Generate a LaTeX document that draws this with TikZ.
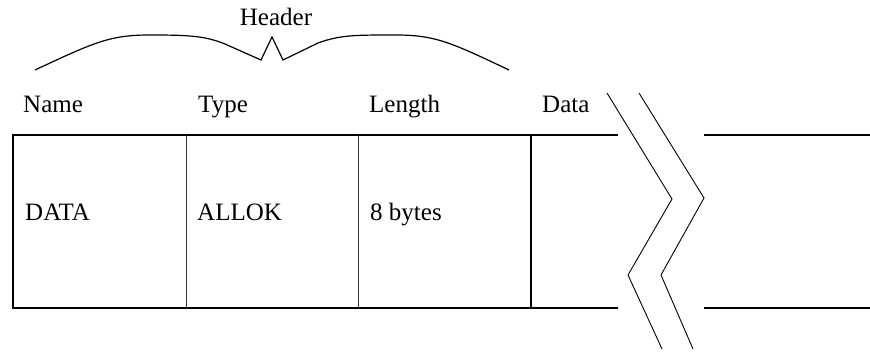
\documentclass[tikz,border=0pt]{standalone}
\usepackage{fontspec}
\setmainfont{Liberation Serif}
\tikzset{
  lbl/.style={anchor=base west, inner sep=0pt, font=\fontsize{25}{30}\selectfont},
  boxline/.style={line width=1.8pt},
  cellline/.style={line width=1pt, black!80},
  breakline/.style={line width=0.9pt},
  bracecurve/.style={line width=1.2pt, line join=miter},
}
\begin{document}
\begin{tikzpicture}[x=1pt, y=-1pt]
  \useasboundingbox (0,0) rectangle (870,352);

  % column headings
  \node[lbl] (hname) at (23,113) {Name};
  \node[lbl] (htype) at (198,113) {Type};
  \node[lbl] (hlen)  at (369,113) {Length};
  \node[lbl] (hdata) at (542,113) {Data};

  % header brace and caption
  \node[lbl, anchor=base] (hdr) at (276,26) {Header};
  \draw[bracecurve] (35,70) .. controls (95,42) and (110,35) .. (150,35)
      .. controls (190,35) and (205,36) .. (225,44) -- (261,60) -- (272,37)
      -- (283,60) -- (318,43) .. controls (340,35) and (355,35) .. (395,35)
      .. controls (435,35) and (450,42) .. (509,70);

  % record outline
  \coordinate (tl) at (13,135);
  \coordinate (bl) at (13,308);
  \coordinate (tr) at (618,135);
  \coordinate (br) at (618,308);
  \draw[boxline] (tr) -- (tl) -- (bl) -- (br);
  \draw[boxline] (704,135) -- (870,135);
  \draw[boxline] (704,308) -- (870,308);

  % field separators
  \draw[cellline] (186,135) -- (186,308);
  \draw[cellline] (358,135) -- (358,308);
  \draw[boxline]  (531,135) -- (531,308);

  % field contents
  \node[lbl] (vname) at (25,221) {DATA};
  \node[lbl] (vtype) at (197,221) {ALLOK};
  \node[lbl] (vlen)  at (370,221) {8 bytes};

  % break marks
  \draw[breakline] (607,93) -- (672,199) -- (628,275) -- (662,349);
  \draw[breakline] (639,93) -- (704,198) -- (661,275) -- (693,349);
\end{tikzpicture}
\end{document}
